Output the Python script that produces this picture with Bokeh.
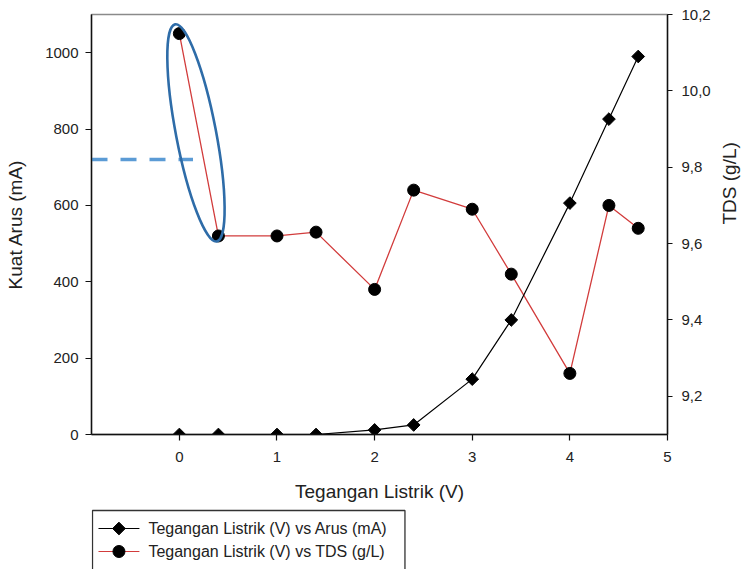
import numpy as np
from bokeh.plotting import figure
from bokeh.layouts import column
from bokeh.models import Range1d, LinearAxis, FixedTicker, CustomJSTickFormatter
from bokeh.core.properties import value
from bokeh.embed import file_html
from bokeh.resources import INLINE

# ---- data ----
voltage = [0, 0.4, 1, 1.4, 2, 2.4, 3, 3.4, 4, 4.4, 4.7]
current_mA = [0, 0, 0, 0, 12, 25, 145, 300, 606, 826, 990]
tds_gL = [10.15, 9.62, 9.62, 9.63, 9.48, 9.74, 9.69, 9.52, 9.26, 9.70, 9.64]

x_ticks = [0, 1, 2, 3, 4, 5]
current_ticks = [0, 200, 400, 600, 800, 1000]
tds_ticks = [9.2, 9.4, 9.6, 9.8, 10.0, 10.2]

legend_labels = ["Tegangan Listrik (V) vs Arus (mA)", "Tegangan Listrik (V) vs TDS (g/L)"]
x_title = "Tegangan Listrik (V)"
y_title = "Kuat Arus (mA)"
y2_title = "TDS (g/L)"

# annotation settings (highlight ellipse and dashed marker)
ellipse_center = (0.17, 9.89)       # x (V), y (TDS)
dash_level_mA = 720
dash_x_end = 0.14

FONT = "Liberation Sans"
TXT = "#222222"
RED = "#d23c3c"

FRAME_L, FRAME_R = 91, 668

p = figure(width=753, height=505, output_backend="svg", toolbar_location=None,
           x_range=Range1d(-0.9, 5), y_range=Range1d(0, 1100),
           min_border_left=FRAME_L, min_border_right=753 - FRAME_R,
           min_border_top=14, min_border_bottom=71)
p.extra_y_ranges = {"tds": Range1d(9.1, 10.2)}
p.xgrid.visible = False
p.ygrid.visible = False
p.outline_line_color = "#8a8a8a"
p.outline_line_width = 1.5
p.background_fill_color = "white"
p.border_fill_color = "white"

def style_axis(ax):
    ax.axis_line_color = "#111111"
    ax.axis_line_width = 1.4
    ax.major_tick_line_color = "#111111"
    ax.major_tick_line_width = 1.2
    ax.major_tick_out = 6
    ax.major_tick_in = 0
    ax.minor_tick_line_color = None
    ax.major_label_text_font = FONT
    ax.major_label_text_font_size = "15px"
    ax.major_label_text_color = TXT
    ax.axis_label_text_font = FONT
    ax.axis_label_text_font_size = "19px"
    ax.axis_label_text_font_style = "normal"
    ax.axis_label_text_color = TXT

xa = p.xaxis[0]
style_axis(xa)
xa.ticker = FixedTicker(ticks=x_ticks)
xa.axis_label = x_title
xa.major_label_standoff = 11
xa.axis_label_standoff = 16

ya = p.yaxis[0]
style_axis(ya)
ya.ticker = FixedTicker(ticks=current_ticks)
ya.axis_label = y_title
ya.major_label_standoff = 7
ya.axis_label_standoff = 16

ra = LinearAxis(y_range_name="tds")
style_axis(ra)
ra.ticker = FixedTicker(ticks=tds_ticks)
ra.formatter = CustomJSTickFormatter(code="return tick.toFixed(1).replace('.', ',');")
ra.major_label_standoff = 9
ra.major_tick_out = 5
ra.axis_label = y2_title
ra.axis_label_standoff = 16
if "axis_label_orientation" in ra.properties():
    ra.axis_label_orientation = np.pi / 2
p.add_layout(ra, "right")

# dashed marker line
p.line([p.x_range.start, dash_x_end], [dash_level_mA, dash_level_mA],
       line_color="#5b9bd5", line_width=3.5, line_dash="16 13")

# TDS series
p.line(voltage, tds_gL, y_range_name="tds", line_color=RED, line_width=1.3)
p.scatter(voltage, tds_gL, y_range_name="tds", marker="circle", size=12,
          fill_color="black", line_color="black")

# current series
p.line(voltage, current_mA, line_color="black", line_width=1.2)
p.scatter(voltage, current_mA, marker="square", angle=np.pi / 4, size=9,
          fill_color="black", line_color="black")

# highlight ellipse
p.ellipse(x=[ellipse_center[0]], y=[ellipse_center[1]], y_range_name="tds",
          width=40, height=221, width_units="screen", height_units="screen",
          angle=0.19, fill_color=None, line_color="#2e6ca8", line_width=2.6)

# ---- legend strip (pixel coordinate space, frame aligned with the chart frame) ----
LH = 569 - 505
lg = figure(width=753, height=LH, output_backend="svg", toolbar_location=None,
            x_range=Range1d(FRAME_L, FRAME_R), y_range=Range1d(LH, 0),
            min_border_left=FRAME_L, min_border_right=753 - FRAME_R,
            min_border_top=0, min_border_bottom=0)
lg.axis.visible = False
lg.xgrid.visible = False
lg.ygrid.visible = False
lg.outline_line_color = None
lg.background_fill_color = "white"
lg.border_fill_color = "white"

box = dict(left=92, right=405, top=5, bottom=LH + 4)
row_y = [23, 46]
glyph_x = (98, 139)
text_x = 148

lg.quad(left=[box["left"]], right=[box["right"]], top=[box["top"]], bottom=[box["bottom"]],
        fill_color="white", line_color="#333333", line_width=1.3)
line_colors = ["black", RED]
for yy, lc in zip(row_y, line_colors):
    lg.line(list(glyph_x), [yy, yy], line_color=lc, line_width=1.2)
mid = (glyph_x[0] + glyph_x[1]) / 2
lg.scatter([mid], [row_y[0]], marker="square", angle=np.pi / 4, size=9,
           fill_color="black", line_color="black")
lg.scatter([mid], [row_y[1]], marker="circle", size=12,
           fill_color="black", line_color="black")
lg.text(x=[text_x, text_x], y=row_y, text=legend_labels,
        text_font=value(FONT), text_font_size="16px", text_color=TXT,
        text_baseline="middle", text_align="left")

layout = column(p, lg, spacing=0)
open("out.html", "w").write(file_html(layout, INLINE))
